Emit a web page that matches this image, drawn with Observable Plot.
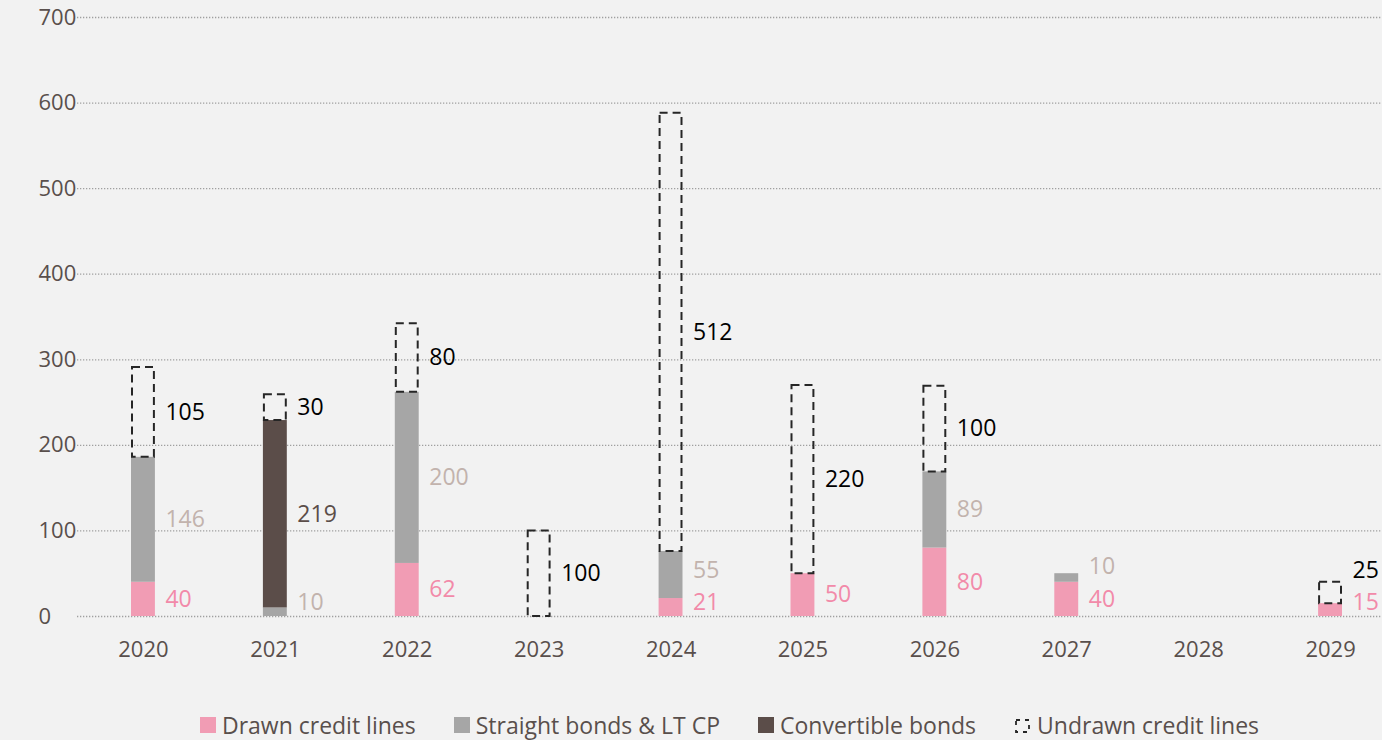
<!DOCTYPE html>
<html>
<head>
<meta charset="utf-8">
<script src="https://cdn.jsdelivr.net/npm/d3@7"></script>
<script src="https://cdn.jsdelivr.net/npm/@observablehq/plot@0.6"></script>
<style>
  html, body { margin: 0; padding: 0; background: #f2f2f2; overflow: hidden; }
  body { width: 1382px; height: 740px; font-family: "Open Sans", sans-serif; }
  #chart svg { background: #f2f2f2; display: block; overflow: hidden; }
  #legend { display: flex; justify-content: center; align-items: center; margin-top: 9px;
            font-size: 23px; color: #594f4c; padding-left: 77px; }
  #legend .item { display: flex; align-items: center; margin: 0 19px; }
  #legend .sw { width: 16px; height: 16px; margin-right: 6px; }
</style>
</head>
<body>
<div id="chart"></div>
<div id="legend"></div>
<script>
// Debt maturity profile by year (in millions)
const years = ["2020", "2021", "2022", "2023", "2024", "2025", "2026", "2027", "2028", "2029"];
const drawn = [40, 0, 62, 0, 21, 50, 80, 40, 0, 15];
const straight = [146, 10, 200, 0, 55, 0, 89, 10, 0, 0];
const convertible = [0, 219, 0, 0, 0, 0, 0, 0, 0, 0];
const undrawn = [105, 30, 80, 100, 512, 220, 100, 0, 0, 25];
const yTicks = [0, 100, 200, 300, 400, 500, 600, 700];

const seriesNames = ["Drawn credit lines", "Straight bonds & LT CP", "Convertible bonds", "Undrawn credit lines"];
const barColors = ["#f19cb4", "#a6a6a6", "#5b4d49", "none"];
const labelColors = ["#f28aa9", "#c2b3ad", "#5b4d49", "#000000"];

// Build stacked segments (bottom to top) from the series arrays;
// label positions sit at segment centres, nudged apart when crowded
const seriesValues = [drawn, straight, convertible, undrawn];
const segments = [];
years.forEach((year, i) => {
  let base = 0;
  let lastLabel = -Infinity;
  seriesValues.forEach((vals, s) => {
    const v = vals[i];
    if (v > 0) {
      const mid = base + v / 2;
      const labelY = Math.max(mid, 16, lastLabel + 38);
      lastLabel = labelY;
      segments.push({year, series: s, value: v, y1: base, y2: base + v, labelY});
      base += v;
    }
  });
});
const solid = segments.filter(d => d.series < 3);
const dashed = segments.filter(d => d.series === 3);

const chart = Plot.plot({
  width: 1382,
  height: 700,
  marginLeft: 77,
  marginRight: 0,
  marginTop: 17,
  marginBottom: 84,
  style: {background: "#f2f2f2", fontFamily: "Open Sans, sans-serif", fontSize: "22px", color: "#594f4c"},
  x: {domain: years, range: [77, 1396], padding: 0, round: false, label: null},
  y: {domain: [0, 700], label: null},
  marks: [
    Plot.ruleY(yTicks, {stroke: "#a0a0a0", strokeWidth: 1.3, strokeDasharray: "1.3,1.7"}),
    Plot.axisY(yTicks, {tickSize: 0, tickPadding: 0, textAnchor: "start", dx: -39, fill: "#594f4c", fontSize: 22}),
    Plot.axisX({tickSize: 0, tickPadding: 25, fill: "#594f4c", fontSize: 22}),
    Plot.rectY(solid, {x: "year", y1: "y1", y2: "y2", fill: d => barColors[d.series], insetLeft: 54, insetRight: 54}),
    Plot.rectY(dashed, {x: "year", y1: "y1", y2: "y2", fill: "none", stroke: "#262626", strokeWidth: 2,
      strokeDasharray: "8,5", insetLeft: 55, insetRight: 55}),
    Plot.text(segments, {x: "year", y: "labelY", text: d => String(d.value), fill: d => labelColors[d.series],
      textAnchor: "start", dx: 22, fontSize: 23})
  ]
});
document.getElementById("chart").append(chart);

// Legend below the plot
const legend = document.getElementById("legend");
seriesNames.forEach((name, s) => {
  const item = document.createElement("div");
  item.className = "item";
  if (s < 3) {
    const sw = document.createElement("div");
    sw.className = "sw";
    sw.style.background = barColors[s];
    item.append(sw);
  } else {
    const ns = "http://www.w3.org/2000/svg";
    const svg = document.createElementNS(ns, "svg");
    svg.setAttribute("width", 18);
    svg.setAttribute("height", 18);
    svg.style.marginRight = "5px";
    const r = document.createElementNS(ns, "rect");
    r.setAttribute("x", 2); r.setAttribute("y", 4);
    r.setAttribute("width", 13); r.setAttribute("height", 12);
    r.setAttribute("fill", "none"); r.setAttribute("stroke", "#262626");
    r.setAttribute("stroke-width", 1.8); r.setAttribute("stroke-dasharray", "4,5");
    svg.append(r);
    item.append(svg);
  }
  const t = document.createElement("span");
  t.textContent = name;
  item.append(t);
  legend.append(item);
});
</script>
</body>
</html>
